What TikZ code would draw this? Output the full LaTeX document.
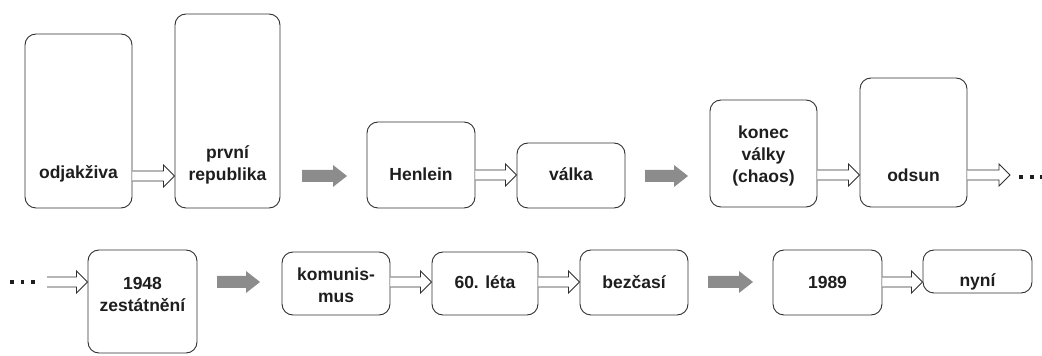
\documentclass[tikz,border=0pt]{standalone}
\usepackage{fontspec}
\setmainfont{Liberation Sans}
\usetikzlibrary{calc}
\definecolor{txt}{HTML}{1E1E1E}
\definecolor{edge}{HTML}{303030}
\definecolor{grayarr}{HTML}{8C8C8C}
\tikzset{
  box/.style={draw=edge, line width=0.9pt, rounded corners=11pt, inner sep=0pt},
  lbl/.style={text=txt, font=\bfseries\fontsize{17.5}{22}\selectfont, align=center, inner sep=0pt},
  harrow/.style={draw=edge, line width=0.8pt, fill=white, line join=miter},
  garrow/.style={fill=grayarr, draw=none},
  dotsq/.style={fill=txt, draw=none}
}
\newcommand\hollowarr[3]{%
  \draw[harrow] let \p1=(#1), \p2=(#2) in
    (\x1,#3-5) -- (\x2-11,#3-5) -- (\x2-11,#3-11) -- (\x2,#3) -- (\x2-11,#3+11) -- (\x2-11,#3+5) -- (\x1,#3+5);}
\newcommand\grayarr[3]{%
  \fill[garrow] (#1,#3-6) -- (#2-14,#3-6) -- (#2-14,#3-11) -- (#2,#3) -- (#2-14,#3+11) -- (#2-14,#3+6) -- (#1,#3+6) -- cycle;}
\newcommand\sqdot[2]{%
  \fill[dotsq] (#1-1.8,#2-1.8) rectangle (#1+1.8,#2+1.8);}
\begin{document}
\begin{tikzpicture}[x=1pt,y=1pt]
\useasboundingbox (0,0) rectangle (1042,356);
% row 1 boxes
\node[box, minimum width=107pt, minimum height=174pt] (b1) at (78.5,235) {};
\node[box, minimum width=105pt, minimum height=194pt] (b2) at (227.5,245) {};
\node[box, minimum width=108pt, minimum height=86pt] (b3) at (421,191) {};
\node[box, minimum width=108pt, minimum height=65pt] (b4) at (571,180.5) {};
\node[box, minimum width=107pt, minimum height=107pt] (b5) at (763.5,202.5) {};
\node[box, minimum width=107pt, minimum height=129pt] (b6) at (913.5,213.5) {};
% row 1 labels
\node[lbl] (t1) at (78.5,182) {odjakživa};
\node[lbl] (t2) at (227.5,191) {první\\republika};
\node[lbl] (t3) at (421,182) {Henlein};
\node[lbl] (t4) at (571,182) {válka};
\node[lbl] (t5) at (763.5,200) {konec\\války\\(chaos)};
\node[lbl] (t6) at (913.5,181) {odsun};
% row 2 boxes
\node[box, minimum width=109pt, minimum height=103pt] (b7) at (142.5,54.5) {};
\node[box, minimum width=108pt, minimum height=63pt] (b8) at (336,72.5) {};
\node[box, minimum width=106pt, minimum height=63pt] (b9) at (485,72.5) {};
\node[box, minimum width=108pt, minimum height=65pt] (b10) at (634,73.5) {};
\node[box, minimum width=109pt, minimum height=65pt] (b11) at (827.5,73.5) {};
\node[box, minimum width=109pt, minimum height=43pt] (b12) at (977.5,84.5) {};
% row 2 labels
\node[lbl] (t7) at (142.5,62) {1948\\zestátnění};
\node[lbl] (t8) at (336,71) {komunis-\\mus};
\node[lbl] (t9) at (485,74) {60. léta};
\node[lbl] (t10) at (634,74) {bezčasí};
\node[lbl] (t11) at (827.5,74) {1989};
\node[lbl] (t12) at (977.5,74) {nyní};
% hollow arrows
\coordinate (e1) at (1010,181);
\coordinate (s2) at (47,74);
\hollowarr{b1.east}{b2.west}{180}
\hollowarr{b3.east}{b4.west}{181}
\hollowarr{b5.east}{b6.west}{181}
\hollowarr{b6.east}{e1}{181}
\hollowarr{s2}{b7.west}{74}
\hollowarr{b8.east}{b9.west}{74}
\hollowarr{b9.east}{b10.west}{74}
\hollowarr{b11.east}{b12.west}{74}
% gray arrows
\grayarr{302}{347}{180}
\grayarr{645}{688}{180}
\grayarr{217}{260}{74}
\grayarr{708}{753}{74}
% dots
\sqdot{1021}{179}\sqdot{1032}{179}\sqdot{1042}{179}
\sqdot{12}{74}\sqdot{22.5}{74}\sqdot{33}{74}
\end{tikzpicture}
\end{document}
